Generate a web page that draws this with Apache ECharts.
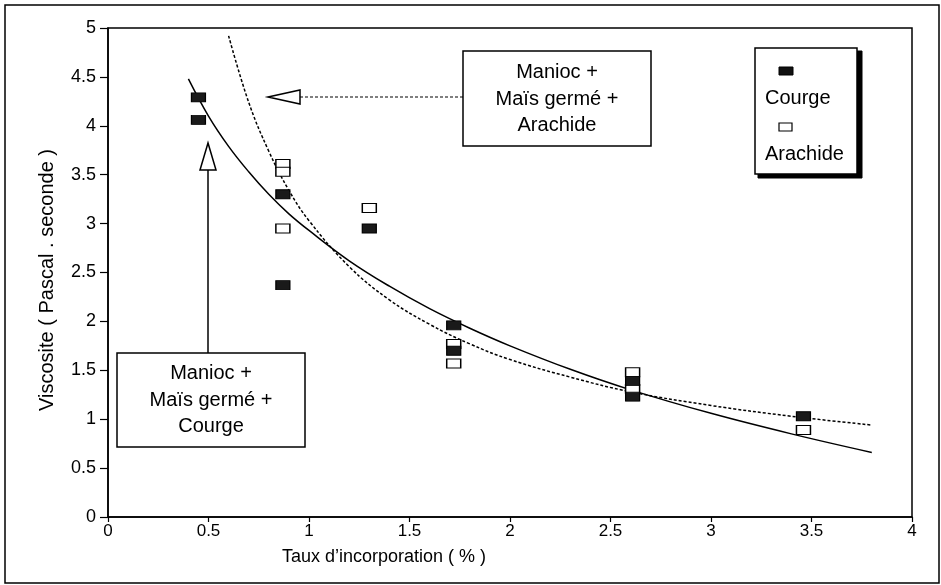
<!DOCTYPE html>
<html>
<head>
<meta charset="utf-8">
<script src="https://cdn.jsdelivr.net/npm/echarts@6/dist/echarts.min.js"></script>
<style>
  html, body { margin: 0; padding: 0; background: #fff; }
  #chart { width: 941px; height: 585px; }
</style>
</head>
<body>
<div id="chart"></div>
<script>
// measured points
var courgeX = [0.45, 0.45, 0.87, 0.87, 1.30, 1.72, 1.72, 2.61, 2.61, 3.46];
var courgeY = [4.29, 4.06, 3.30, 2.37, 2.95, 1.96, 1.70, 1.39, 1.23, 1.03];
var arachideX = [0.87, 0.87, 0.87, 1.30, 1.72, 1.72, 2.61, 2.61, 3.46];
var arachideY = [3.61, 3.53, 2.95, 3.16, 1.77, 1.57, 1.48, 1.31, 0.89];

// trend curves
var fitCourgeX = [0.4, 0.5, 0.6, 0.7, 0.8, 0.9, 1.0, 1.2, 1.4, 1.6, 1.8, 2.0, 2.3, 2.6, 3.0, 3.4, 3.8];
var fitCourgeY = [4.48, 4.10, 3.79, 3.53, 3.30, 3.10, 2.93, 2.62, 2.36, 2.13, 1.93, 1.75, 1.51, 1.30, 1.06, 0.85, 0.66];
var fitArachideX = [0.6, 0.7, 0.8, 0.9, 1.0, 1.2, 1.4, 1.6, 1.8, 2.0, 2.3, 2.6, 3.0, 3.4, 3.8];
var fitArachideY = [4.92, 4.24, 3.74, 3.34, 3.03, 2.56, 2.22, 1.97, 1.77, 1.61, 1.43, 1.28, 1.14, 1.03, 0.94];

var legendNames = ['Courge', 'Arachide'];
var boxArachide = ['Manioc +', 'Maïs germé +', 'Arachide'];
var boxCourge = ['Manioc +', 'Maïs germé +', 'Courge'];

function pairs(xs, ys) {
    return xs.map(function (x, i) { return [x, ys[i]]; });
}

var font = 'Liberation Sans, Arial, sans-serif';

var myChart = echarts.init(document.getElementById('chart'));

function txt(t, x, y, size, align) {
    return {
        type: 'text', z: 20,
        style: {
            text: t, x: x, y: y, fill: '#000',
            font: size + 'px ' + font,
            textAlign: align || 'center', textVerticalAlign: 'middle'
        }
    };
}

var graphics = [
    // outer frame
    { type: 'rect', z: -1, shape: { x: 5, y: 5, width: 934, height: 578 },
      style: { fill: 'none', stroke: '#000', lineWidth: 1.5 } },

    // axis titles
    { type: 'text', x: 47, y: 280, rotation: Math.PI / 2,
      style: { text: 'Viscosite ( Pascal . seconde )', fill: '#000', font: '20px ' + font,
               textAlign: 'center', textVerticalAlign: 'middle' } },
    txt('Taux d\u2019incorporation ( % )', 384, 557, 18),

    // upper annotation (Arachide)
    { type: 'line', shape: { x1: 463, y1: 97, x2: 300, y2: 97 },
      style: { stroke: '#000', lineWidth: 1.2, lineDash: [3, 2] } },
    { type: 'polygon', shape: { points: [[268, 97], [300, 90], [300, 104]] },
      style: { fill: '#fff', stroke: '#000', lineWidth: 1.5 } },
    { type: 'rect', shape: { x: 463, y: 51, width: 188, height: 95 },
      style: { fill: '#fff', stroke: '#000', lineWidth: 1.5 } },
    txt(boxArachide[0], 557, 72, 20),
    txt(boxArachide[1], 557, 99, 20),
    txt(boxArachide[2], 557, 125, 20),

    // lower annotation (Courge)
    { type: 'line', shape: { x1: 208, y1: 353, x2: 208, y2: 170 },
      style: { stroke: '#000', lineWidth: 1.5 } },
    { type: 'polygon', shape: { points: [[208, 143], [200, 170], [216, 170]] },
      style: { fill: '#fff', stroke: '#000', lineWidth: 1.5 } },
    { type: 'rect', shape: { x: 117, y: 353, width: 188, height: 94 },
      style: { fill: '#fff', stroke: '#000', lineWidth: 1.5 } },
    txt(boxCourge[0], 211, 373, 20),
    txt(boxCourge[1], 211, 400, 20),
    txt(boxCourge[2], 211, 426, 20),

    // legend box with shadow border
    { type: 'rect', shape: { x: 758, y: 51, width: 104, height: 127 },
      style: { fill: '#000', stroke: '#000', lineWidth: 1 } },
    { type: 'rect', shape: { x: 755, y: 48, width: 102, height: 126 },
      style: { fill: '#fff', stroke: '#000', lineWidth: 1.5 } },
    { type: 'rect', z: 20, shape: { x: 779, y: 67, width: 14, height: 8 },
      style: { fill: '#111', stroke: '#000', lineWidth: 1 } },
    txt(legendNames[0], 765, 98, 20, 'left'),
    { type: 'rect', z: 20, shape: { x: 779, y: 123, width: 13, height: 8 },
      style: { fill: '#fff', stroke: '#000', lineWidth: 1.2 } },
    txt(legendNames[1], 765, 154, 20, 'left')
];

var option = {
    animation: false,
    backgroundColor: '#fff',
    grid: {
        left: 108, right: 29, top: 28, bottom: 68,
        show: true, borderColor: '#000', borderWidth: 1.5
    },
    xAxis: {
        type: 'value', min: 0, max: 4, interval: 0.5,
        axisLine: { show: true, lineStyle: { color: '#000', width: 1.5 } },
        axisTick: { show: true, length: 5, lineStyle: { color: '#000', width: 1.2 } },
        axisLabel: { color: '#000', fontSize: 17, fontFamily: font, margin: 6 },
        splitLine: { show: false }
    },
    yAxis: {
        type: 'value', min: 0, max: 5, interval: 0.5,
        axisLine: { show: true, lineStyle: { color: '#000', width: 1.5 } },
        axisTick: { show: true, length: 8, lineStyle: { color: '#000', width: 1.2 } },
        axisLabel: { color: '#000', fontSize: 18, fontFamily: font, margin: 12 },
        splitLine: { show: false }
    },
    series: [{
        name: 'fit courge',
        type: 'line', smooth: 0.4, showSymbol: false, silent: true,
        lineStyle: { color: '#000', width: 1.5 },
        data: pairs(fitCourgeX, fitCourgeY)
    }, {
        name: 'fit arachide',
        type: 'line', smooth: 0.4, showSymbol: false, silent: true,
        lineStyle: { color: '#000', width: 1.5, type: [3, 2] },
        data: pairs(fitArachideX, fitArachideY)
    }, {
        name: legendNames[1],
        type: 'scatter', symbol: 'rect', symbolSize: [14, 9], z: 4,
        itemStyle: { color: '#fff', borderColor: '#000', borderWidth: 1.2, opacity: 1 },
        data: pairs(arachideX, arachideY)
    }, {
        name: legendNames[0],
        type: 'scatter', symbol: 'rect', symbolSize: [14, 9], z: 5,
        itemStyle: { color: '#1a1a1a', borderColor: '#000', borderWidth: 1, opacity: 1 },
        data: pairs(courgeX, courgeY)
    }],
    graphic: graphics
};

if (option && typeof option === "object") {
    myChart.setOption(option, true);
}
</script>
</body>
</html>
